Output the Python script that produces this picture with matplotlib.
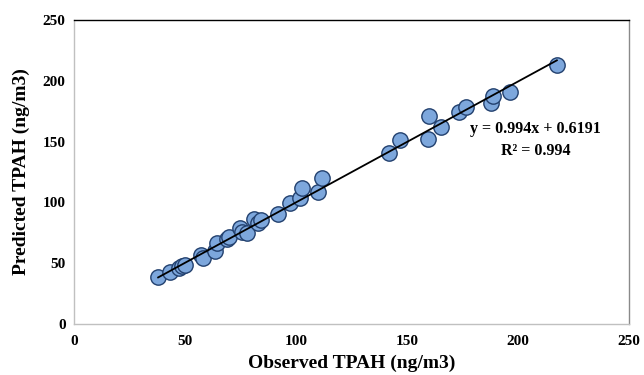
import matplotlib
matplotlib.use("Agg")
import matplotlib.pyplot as plt
import numpy as np

observed = [37.9, 43.3, 47.1, 48.7, 50.0, 57.1, 57.9, 63.4, 64.6, 69.1, 69.8,
            74.6, 75.8, 77.8, 81.3, 83.0, 84.2, 91.8, 97.5, 101.9, 102.5, 109.9,
            111.6, 141.9, 146.9, 159.5, 159.7, 165.3, 173.6, 176.4, 187.7, 188.6,
            196.2, 217.5]
predicted = [38.3, 42.6, 45.9, 47.8, 48.6, 56.6, 53.9, 60.1, 66.4, 70.2, 71.9,
             78.9, 75.7, 75.2, 86.1, 82.8, 85.5, 90.7, 99.2, 103.5, 111.5, 108.4,
             119.7, 140.7, 151.6, 152.5, 171.3, 161.7, 174.0, 178.4, 181.7, 187.1,
             191.0, 213.1]
slope = 0.994
intercept = 0.6191
r2 = 0.994
ticks = [0, 50, 100, 150, 200, 250]

plt.rcParams['font.family'] = ['Liberation Serif', 'DejaVu Serif']

fig = plt.figure(figsize=(6.44, 3.75), dpi=100)
ax = fig.add_axes([74/644, 1-324/375, (629-74)/644, (324-20)/375])

ax.scatter(observed, predicted, s=122, facecolor='#7DA7DC', edgecolor='#22406E',
           linewidth=1.0, zorder=3)
xs = np.array([min(observed), max(observed)])
ax.plot(xs, slope*xs + intercept, color='black', linewidth=1.3, zorder=4)

ax.set_xlim(0, 250)
ax.set_ylim(0, 250)
ax.set_xticks(ticks)
ax.set_yticks(ticks)
ax.set_xticklabels([str(t) for t in ticks], fontsize=11, fontweight='bold')
ax.set_yticklabels([str(t) for t in ticks], fontsize=11, fontweight='bold')
ax.tick_params(axis='x', length=0, pad=8)
ax.tick_params(axis='y', length=0, pad=6)

ax.spines['top'].set_color('black')
ax.spines['right'].set_color('#8a8a8a')
ax.spines['left'].set_color('#c0c0c0')
ax.spines['bottom'].set_color('#c0c0c0')
for s in ax.spines.values():
    s.set_linewidth(1.0)

ax.set_xlabel('Observed TPAH (ng/m3)', fontsize=14, fontweight='bold', labelpad=5)
ax.set_ylabel('Predicted TPAH (ng/m3)', fontsize=14, fontweight='bold', labelpad=9)

ax.text(208, 151, f'y = {slope}x + {intercept}\nR² = {r2}', ha='center', va='center',
        fontsize=11.5, fontweight='bold', linespacing=1.5)

fig.savefig('out.png', dpi=100)
